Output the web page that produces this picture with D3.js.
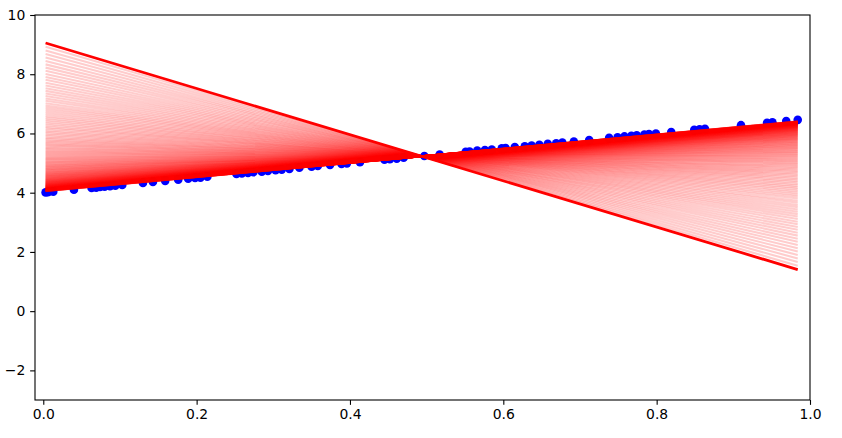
<!DOCTYPE html>
<html><head><meta charset="utf-8">
<script src="https://cdn.jsdelivr.net/npm/d3@7"></script>
<style>body{margin:0;background:#fff}svg{display:block}</style>
</head><body><svg id="c" width="842" height="438"></svg>
<script>
// data points
const pointX=[0.003,0.006,0.013,0.040,0.063,0.069,0.074,0.080,0.087,0.094,0.103,0.130,0.143,0.159,0.176,0.189,0.198,0.205,0.214,0.252,0.259,0.267,0.274,0.285,0.293,0.303,0.311,0.321,0.334,0.350,0.358,0.374,0.389,0.396,0.413,0.445,0.452,0.461,0.470,0.497,0.517,0.551,0.556,0.566,0.576,0.585,0.598,0.603,0.615,0.628,0.637,0.647,0.658,0.669,0.677,0.692,0.712,0.738,0.749,0.758,0.767,0.774,0.784,0.790,0.799,0.819,0.849,0.856,0.863,0.910,0.944,0.951,0.969,0.984];
const pointY=[4.01,4.02,4.03,4.10,4.16,4.17,4.19,4.20,4.22,4.24,4.26,4.33,4.36,4.40,4.44,4.47,4.50,4.51,4.54,4.63,4.65,4.67,4.69,4.71,4.73,4.76,4.78,4.80,4.84,4.88,4.90,4.94,4.97,4.99,5.03,5.11,5.13,5.15,5.18,5.24,5.29,5.38,5.39,5.42,5.44,5.46,5.50,5.51,5.54,5.57,5.59,5.62,5.65,5.67,5.69,5.73,5.78,5.85,5.87,5.90,5.92,5.94,5.96,5.98,6.00,6.05,6.12,6.14,6.16,6.28,6.36,6.38,6.42,6.46];
// fitted line per epoch: y = weight*x + bias (epoch 0 = initial line)
const weights=[-7.800,-7.538,-7.283,-7.035,-6.793,-6.557,-6.327,-6.103,-5.884,-5.671,
-5.463,-5.261,-5.064,-4.872,-4.684,-4.502,-4.324,-4.151,-3.982,-3.817,
-3.657,-3.500,-3.348,-3.199,-3.055,-2.913,-2.776,-2.642,-2.511,-2.384,
-2.260,-2.139,-2.021,-1.906,-1.794,-1.685,-1.579,-1.475,-1.374,-1.276,
-1.180,-1.087,-0.996,-0.907,-0.820,-0.736,-0.654,-0.574,-0.495,-0.419,
-0.345,-0.273,-0.203,-0.134,-0.067,-0.002,0.062,0.124,0.184,0.243,
0.300,0.356,0.411,0.464,0.515,0.566,0.615,0.663,0.709,0.755,
0.799,0.843,0.885,0.926,0.966,1.005,1.043,1.080,1.116,1.151,
1.185,1.219,1.251,1.283,1.314,1.344,1.373,1.402,1.430,1.457,
1.483,1.509,1.534,1.559,1.583,1.606,1.629,1.651,1.672,1.694,
1.714,1.734,1.753,1.772,1.791,1.809,1.826,1.844,1.860,1.876,
1.892,1.908,1.923,1.937,1.952,1.966,1.979,1.992,2.005,2.018,
2.030,2.042,2.054,2.065,2.076,2.087,2.097,2.108,2.118,2.127,
2.137,2.146,2.155,2.164,2.172,2.181,2.189,2.197,2.204,2.212,
2.219,2.226,2.233,2.240,2.247,2.253,2.259,2.265,2.271,2.277,
2.283,2.288,2.294,2.299,2.304,2.309,2.314,2.319,2.323,2.328,
2.332,2.336,2.341,2.345,2.349,2.352,2.356,2.360,2.363,2.367,
2.370,2.374,2.377,2.380,2.383,2.386,2.389,2.392,2.394,2.397,2.400];
const biases=[9.079,8.950,8.824,8.701,8.582,8.465,8.352,8.241,8.133,8.028,
7.926,7.826,7.729,7.634,7.542,7.451,7.364,7.278,7.195,7.114,
7.034,6.957,6.882,6.809,6.737,6.668,6.600,6.534,6.469,6.406,
6.345,6.285,6.227,6.171,6.115,6.061,6.009,5.958,5.908,5.859,
5.812,5.766,5.721,5.677,5.635,5.593,5.552,5.513,5.474,5.437,
5.400,5.364,5.330,5.296,5.263,5.231,5.199,5.169,5.139,5.110,
5.082,5.054,5.027,5.001,4.975,4.951,4.926,4.903,4.880,4.857,
4.835,4.814,4.793,4.773,4.753,4.734,4.715,4.697,4.679,4.662,
4.645,4.628,4.612,4.597,4.581,4.567,4.552,4.538,4.524,4.511,
4.498,4.485,4.473,4.460,4.449,4.437,4.426,4.415,4.404,4.394,
4.384,4.374,4.364,4.355,4.346,4.337,4.328,4.320,4.312,4.304,
4.296,4.288,4.281,4.274,4.267,4.260,4.253,4.247,4.240,4.234,
4.228,4.222,4.216,4.211,4.205,4.200,4.195,4.190,4.185,4.180,
4.175,4.171,4.166,4.162,4.158,4.154,4.150,4.146,4.142,4.138,
4.135,4.131,4.128,4.124,4.121,4.118,4.115,4.112,4.109,4.106,
4.103,4.101,4.098,4.095,4.093,4.090,4.088,4.086,4.083,4.081,
4.079,4.077,4.075,4.073,4.071,4.069,4.067,4.065,4.064,4.062,
4.060,4.058,4.057,4.055,4.054,4.052,4.051,4.050,4.048,4.047,4.046];
const xTicks=[0,0.2,0.4,0.6,0.8,1.0];
const yTicks=[-2,0,2,4,6,8,10];
const xDomain=[-0.0108,1.0];
const yDomain=[-3,10];

const L=35,R=810,T=15,B=400;
const svg=d3.select("#c");
const x=d3.scaleLinear().domain(xDomain).range([L,R]);
const y=d3.scaleLinear().domain(yDomain).range([B,T]);
const font="'DejaVu Sans', sans-serif";

// points
svg.append("g").selectAll("circle").data(pointX.map((v,i)=>[v,pointY[i]])).join("circle")
  .attr("cx",d=>x(d[0])).attr("cy",d=>y(d[1])).attr("r",4.3).attr("fill","#0000ff");

// lines
const [x0,x1]=d3.extent(pointX);
const line=d3.line().x(d=>x(d[0])).y(d=>y(d[1]));
const lg=svg.append("g");
weights.forEach((w,i)=>{
  const b=biases[i];
  lg.append("path").attr("d",line([[x0,w*x0+b],[x1,w*x1+b]]))
    .attr("fill","none").attr("stroke","#ff0000")
    .attr("stroke-width",i===0?2.8:2.08)
    .attr("stroke-opacity",i===0?1:0.2);
});

// axes
const xa=svg.append("g").attr("transform",`translate(0,${B})`)
  .call(d3.axisBottom(x).tickValues(xTicks).tickFormat(d3.format(".1f")).tickSize(4.86).tickPadding(4.5).tickSizeOuter(0));
const ya=svg.append("g").attr("transform",`translate(${L},0)`)
  .call(d3.axisLeft(y).tickValues(yTicks).tickFormat(d3.format("d")).tickSize(4.86).tickPadding(4.86).tickSizeOuter(0));
[xa,ya].forEach(g=>{
  g.select(".domain").remove();
  g.selectAll("line").attr("stroke","#000").attr("stroke-width",1.1);
  g.selectAll("text").attr("font-family",font).attr("font-size","13.9px").attr("fill","#000");
});
svg.append("rect").attr("x",L).attr("y",T).attr("width",R-L).attr("height",B-T)
  .attr("fill","none").attr("stroke","#000").attr("stroke-width",1.1);
</script></body></html>
